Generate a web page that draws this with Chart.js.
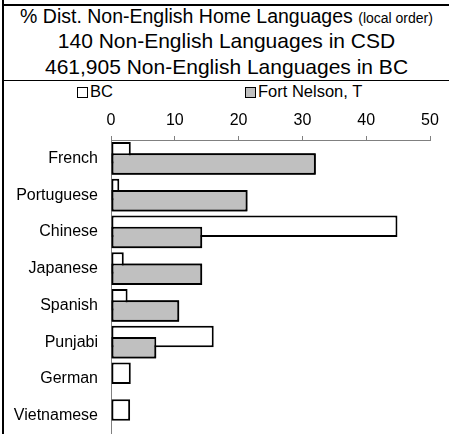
<!DOCTYPE html>
<html>
<head>
<meta charset="utf-8">
<script src="https://cdn.jsdelivr.net/npm/chart.js@4"></script>
<style>
  html, body { margin: 0; padding: 0; background: #fff; }
  body { width: 449px; height: 434px; position: relative; overflow: hidden;
         font-family: "Liberation Sans", Arial, sans-serif; color: #000; }
  .hline { position: absolute; background: #000; }
  .ttl { position: absolute; left: 4px; width: 445px; text-align: center; white-space: nowrap; }
  .leg { position: absolute; font-size: 16.5px; line-height: 16.5px; white-space: nowrap; }
  .leg i { display: inline-block; width: 9px; height: 9px; border: 1px solid #000; vertical-align: -1px; margin-right: 2px; }
  #wrap { position: absolute; left: 0; top: 98px; width: 449px; height: 336px; }
</style>
</head>
<body>
<div class="ttl" style="top:7px;font-size:19.5px;line-height:19.5px;">% Dist. Non-English Home Languages <span style="font-size:14px;">(local order)</span></div>
<div class="ttl" style="top:30px;font-size:21px;line-height:21px;">140 Non-English Languages in CSD</div>
<div class="ttl" style="top:56px;font-size:21px;line-height:21px;">461,905 Non-English Languages in BC</div>
<div class="hline" style="left:2px;top:4px;width:447px;height:2px;"></div>
<div class="hline" style="left:2px;top:80px;width:447px;height:1px;"></div>
<div id="legend"></div>
<div id="wrap"><canvas id="c" width="449" height="336"></canvas></div>
<div class="hline" style="left:2px;top:0;width:2px;height:434px;z-index:5;"></div>
<script>
const categories = ['French', 'Portuguese', 'Chinese', 'Japanese', 'Spanish', 'Punjabi', 'German', 'Vietnamese'];
const seriesNames = ['BC', 'Fort Nelson, T'];
const bcValues = [3.1, 1.3, 44.9, 2.0, 2.6, 16.1, 3.1, 3.0];
const fnValues = [32.1, 21.4, 14.3, 14.3, 10.7, 7.1, null, null];
const xTicks = [0, 10, 20, 30, 40, 50];

const fills = ['#ffffff', '#c0c0c0'];
const legendX = [77, 245];
const legendEl = document.getElementById('legend');
seriesNames.forEach((name, i) => {
  const d = document.createElement('div');
  d.className = 'leg';
  d.style.left = legendX[i] + 'px';
  d.style.top = '83px';
  d.innerHTML = '<i style="background:' + fills[i] + '"></i>' + name;
  legendEl.appendChild(d);
});

const fnOnTop = {
  id: 'fnOnTop',
  afterDatasetsDraw(chart) {
    const meta = chart.getDatasetMeta(1);
    meta.controller.draw();
  }
};

const font = { family: '"Liberation Sans", Arial, sans-serif', size: 16 };

new Chart(document.getElementById('c'), {
  type: 'bar',
  data: {
    labels: categories,
    datasets: [
      { label: seriesNames[0], data: bcValues, backgroundColor: fills[0], borderColor: '#000', borderWidth: 2, borderSkipped: false },
      { label: seriesNames[1], data: fnValues, backgroundColor: fills[1], borderColor: '#000', borderWidth: 2, borderSkipped: false }
    ]
  },
  plugins: [fnOnTop],
  options: {
    indexAxis: 'y',
    responsive: false,
    animation: false,
    devicePixelRatio: 1,
    categoryPercentage: 0.6,
    barPercentage: 1.95,
    layout: { padding: { left: 0, right: 19, top: 0, bottom: 0 } },
    plugins: { legend: { display: false }, title: { display: false }, tooltip: { enabled: false } },
    scales: {
      x: {
        position: 'top',
        min: xTicks[0], max: xTicks[xTicks.length - 1],
        afterBuildTicks(scale) { scale.ticks = xTicks.map(v => ({ value: v })); },
        afterFit(scale) { scale.height = 42; },
        grid: { drawOnChartArea: false, drawTicks: true, tickLength: 4, color: '#808080', lineWidth: 1 },
        border: { display: true, color: '#808080', width: 1 },
        ticks: { color: '#000', font: font, padding: 6, maxRotation: 0 }
      },
      y: {
        afterFit(scale) { scale.width = 111; scale.paddingTop = 0; scale.paddingBottom = 0; },
        grid: { drawOnChartArea: false, drawTicks: false },
        border: { display: true, color: '#808080', width: 1 },
        ticks: { color: '#000', font: font, padding: 13, autoSkip: false }
      }
    }
  }
});
</script>
</body>
</html>
